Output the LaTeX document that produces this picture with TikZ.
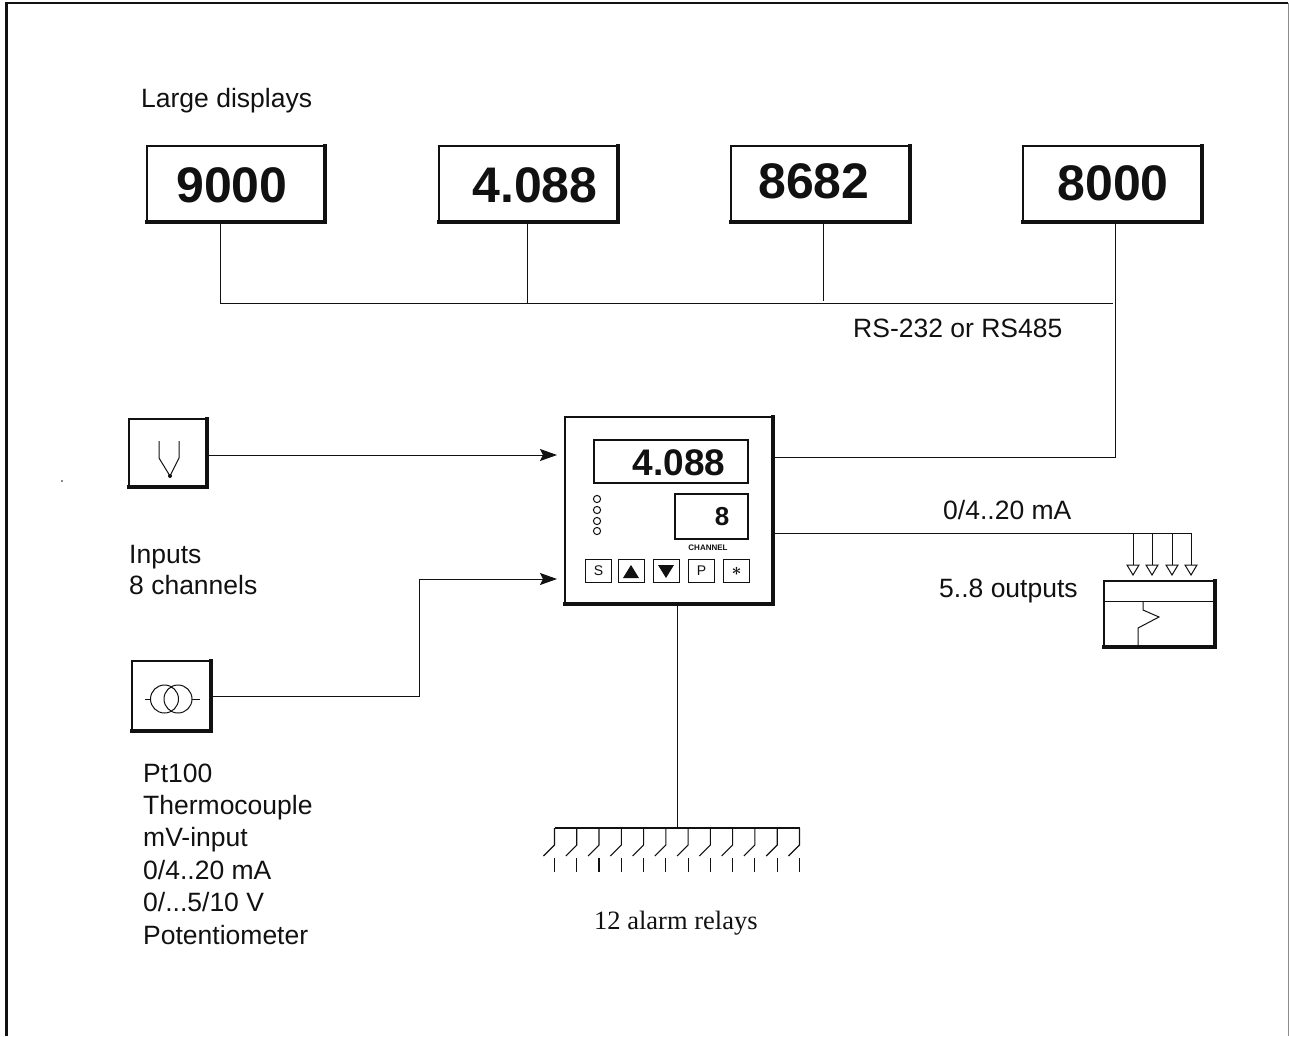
\documentclass[tikz,border=0pt]{standalone}
\usepackage{fontspec}
\setmainfont{Liberation Sans}
\newfontfamily\serifface{Liberation Serif}
\usepackage{tikz}
\usetikzlibrary{arrows.meta, positioning, calc}
\definecolor{inkblack}{HTML}{111111}

\begin{document}
\begin{tikzpicture}[
    x=1pt, y=-1pt, inkblack,
    panel/.style={draw=inkblack, line width=1.3pt, fill=white, inner sep=0pt, outer sep=0pt, anchor=north west},
    bigtxt/.style={font=\fontsize{50}{50}\selectfont\bfseries, inner sep=0pt},
    lbl/.style={font=\fontsize{26.5}{31}\selectfont, inner sep=0pt, anchor=west, align=left},
    wire/.style={line width=1pt},
    arr/.style={wire, -{Stealth[length=17pt, width=12pt, inset=3pt]}},
    shadow/.style={line width=3.5pt, line cap=rect},
    keybox/.style={draw=inkblack, line width=1pt, minimum width=26pt, minimum height=23pt,
                inner sep=0pt, anchor=north west, font=\fontsize{14}{14}\selectfont}
  ]
    \useasboundingbox (0,0) rectangle (1289,1036);
    % Frame
    \draw[line width=2.5pt] (6.5,1036) -- (6.5,3) -- (1288,3);
    \draw[line width=0.8pt, black!45] (1288,3) -- (1288,1036);

    % Large displays
    \node[lbl] (title) at (141,101) {Large displays};
    \node[panel, minimum width=178pt, minimum height=76pt] (dispa) at (147,146) {};
    \node[panel, minimum width=179pt, minimum height=76pt] (dispb) at (439,146) {};
    \node[panel, minimum width=179pt, minimum height=76pt] (dispc) at (731,146) {};
    \node[panel, minimum width=179pt, minimum height=76pt] (dispd) at (1023,146) {};
    \foreach \disp in {dispa,dispb,dispc,dispd}
      \draw[shadow] (\disp.north east) -- (\disp.south east) -- (\disp.south west);
    \node[bigtxt] at (232,185) {9000};
    \node[bigtxt] at (535,185) {4.088};
    \node[bigtxt] at (814,181) {8682};
    \node[bigtxt] at (1113,183) {8000};

    % Bus
    \coordinate (buscorner) at (220,303);
    \coordinate (busend) at (1113,303);
    \coordinate (busout) at (1115,457);
    \draw[wire] (dispa.south -| buscorner) -- (buscorner) -- (busend);
    \draw[wire] (dispb.south -| 527,0) -- (527,303);
    \draw[wire] (dispc.south -| 823,0) -- (823,301);
    \draw[wire] (dispd.south -| busout) -- (busout) -- (775,457);
    \node[lbl] (buslbl) at (853,328) {RS-232 or RS485};

    % Instrument
    \node[panel, minimum width=208pt, minimum height=187pt] (inst) at (565,417) {};
    \draw[shadow] (inst.north east) -- (inst.south east) -- (inst.south west);
    \node[panel, minimum width=154pt, minimum height=43pt] (main) at (594,440) {};
    \node[bigtxt, font=\fontsize{37}{37}\selectfont\bfseries] at (679,463) {4.088};
    \node[panel, minimum width=73pt, minimum height=45pt] (chan) at (675,494) {};
    \node[bigtxt, font=\fontsize{26}{26}\selectfont\bfseries] at (722,517) {8};
    \node[font=\fontsize{8}{8}\selectfont\bfseries, inner sep=0pt] at (708,548) {CHANNEL};
    \foreach \yy in {499,510,521,531}
      \draw[line width=1pt] (597,\yy) circle (3.6);
    \node[keybox] (keys) at (585,559) {S};
    \node[keybox] (keyup) at (618,559) {};
    \node[keybox] (keydn) at (653,559) {};
    \node[keybox] (keyp) at (688,559) {P};
    \node[keybox, font=\fontsize{17}{17}\selectfont\boldmath] (keyx) at (723,559) {$\ast$};
    \fill (631,565) -- (639,578) -- (623,578) -- cycle;
    \fill (666,578) -- (674,565) -- (658,565) -- cycle;

    % Inputs
    \node[panel, minimum width=78pt, minimum height=68pt] (tc) at (129,419) {};
    \draw[shadow] (tc.north east) -- (tc.south east) -- (tc.south west);
    \draw[line width=1pt] (159,441) -- (159,458) -- (170,476) -- (179,458) -- (179,441);
    \fill (170,476) circle (2);
    \coordinate (tcin) at (557,455);
    \draw[arr] (tc.east |- tcin) -- (tcin);
    \node[lbl] (inlbl) at (129,570) {Inputs\\8 channels};

    \node[panel, minimum width=79pt, minimum height=70pt] (rtd) at (132,661) {};
    \draw[shadow] (rtd.north east) -- (rtd.south east) -- (rtd.south west);
    \draw[line width=1pt] (145,699) -- (150,699) (192,699) -- (200,699);
    \draw[line width=1pt] (164.5,699) circle (14) (178,699) circle (14);
    \coordinate (rtdin) at (557,579);
    \draw[arr] (rtd.east) -- (419,696) -- (419,579) -- (rtdin);
    \node[lbl, font=\fontsize{26.5}{32.4}\selectfont] (typelbl) at (143,854)
      {Pt100\\Thermocouple\\mV-input\\0/4..20 mA\\0/...5/10 V\\Potentiometer};

    % Analog outputs
    \draw[wire] (775,533) -- (1192,533);
    \node[lbl] (outlbl) at (943,510) {0/4..20 mA};
    \node[lbl] (cntlbl) at (939,591) {5..8 outputs};
    \foreach \xx in {1133,1152,1172,1191} {
      \draw[wire] (\xx,533) -- (\xx,565);
      \draw[line width=1pt] (\xx-6,565) -- (\xx+6,565) -- (\xx,575) -- cycle;
    }
    \node[panel, minimum width=111pt, minimum height=66pt] (outbox) at (1104,581) {};
    \draw[shadow] (outbox.north east) -- (outbox.south east) -- (outbox.south west);
    \draw[line width=1pt] (1104,601) -- (1215,601);
    \draw[line width=1pt] (1143,601) -- (1143,610) -- (1159,617) -- (1138,628) -- (1138,647);

    % Relays
    \coordinate (relaybus) at (677,828);
    \draw[wire] (inst.south -| relaybus) -- (relaybus);
    \draw[line width=1.1pt] (554.5,828) -- (799.5,828);
    \foreach \xx in {0,...,11} {
      \pgfmathsetmacro{\rx}{554.5+22.27*\xx}
      \draw[line width=1.1pt] (\rx,828) -- (\rx,845) -- (\rx-11,856);
      \draw[line width=1.1pt] (\rx,858) -- (\rx,872);
    }
    \node[lbl, font=\fontsize{26.5}{26.5}\selectfont\serifface] (rellbl) at (594,923) {12 alarm relays};
    \fill (62,481) circle (0.8);
\end{tikzpicture}
\end{document}
